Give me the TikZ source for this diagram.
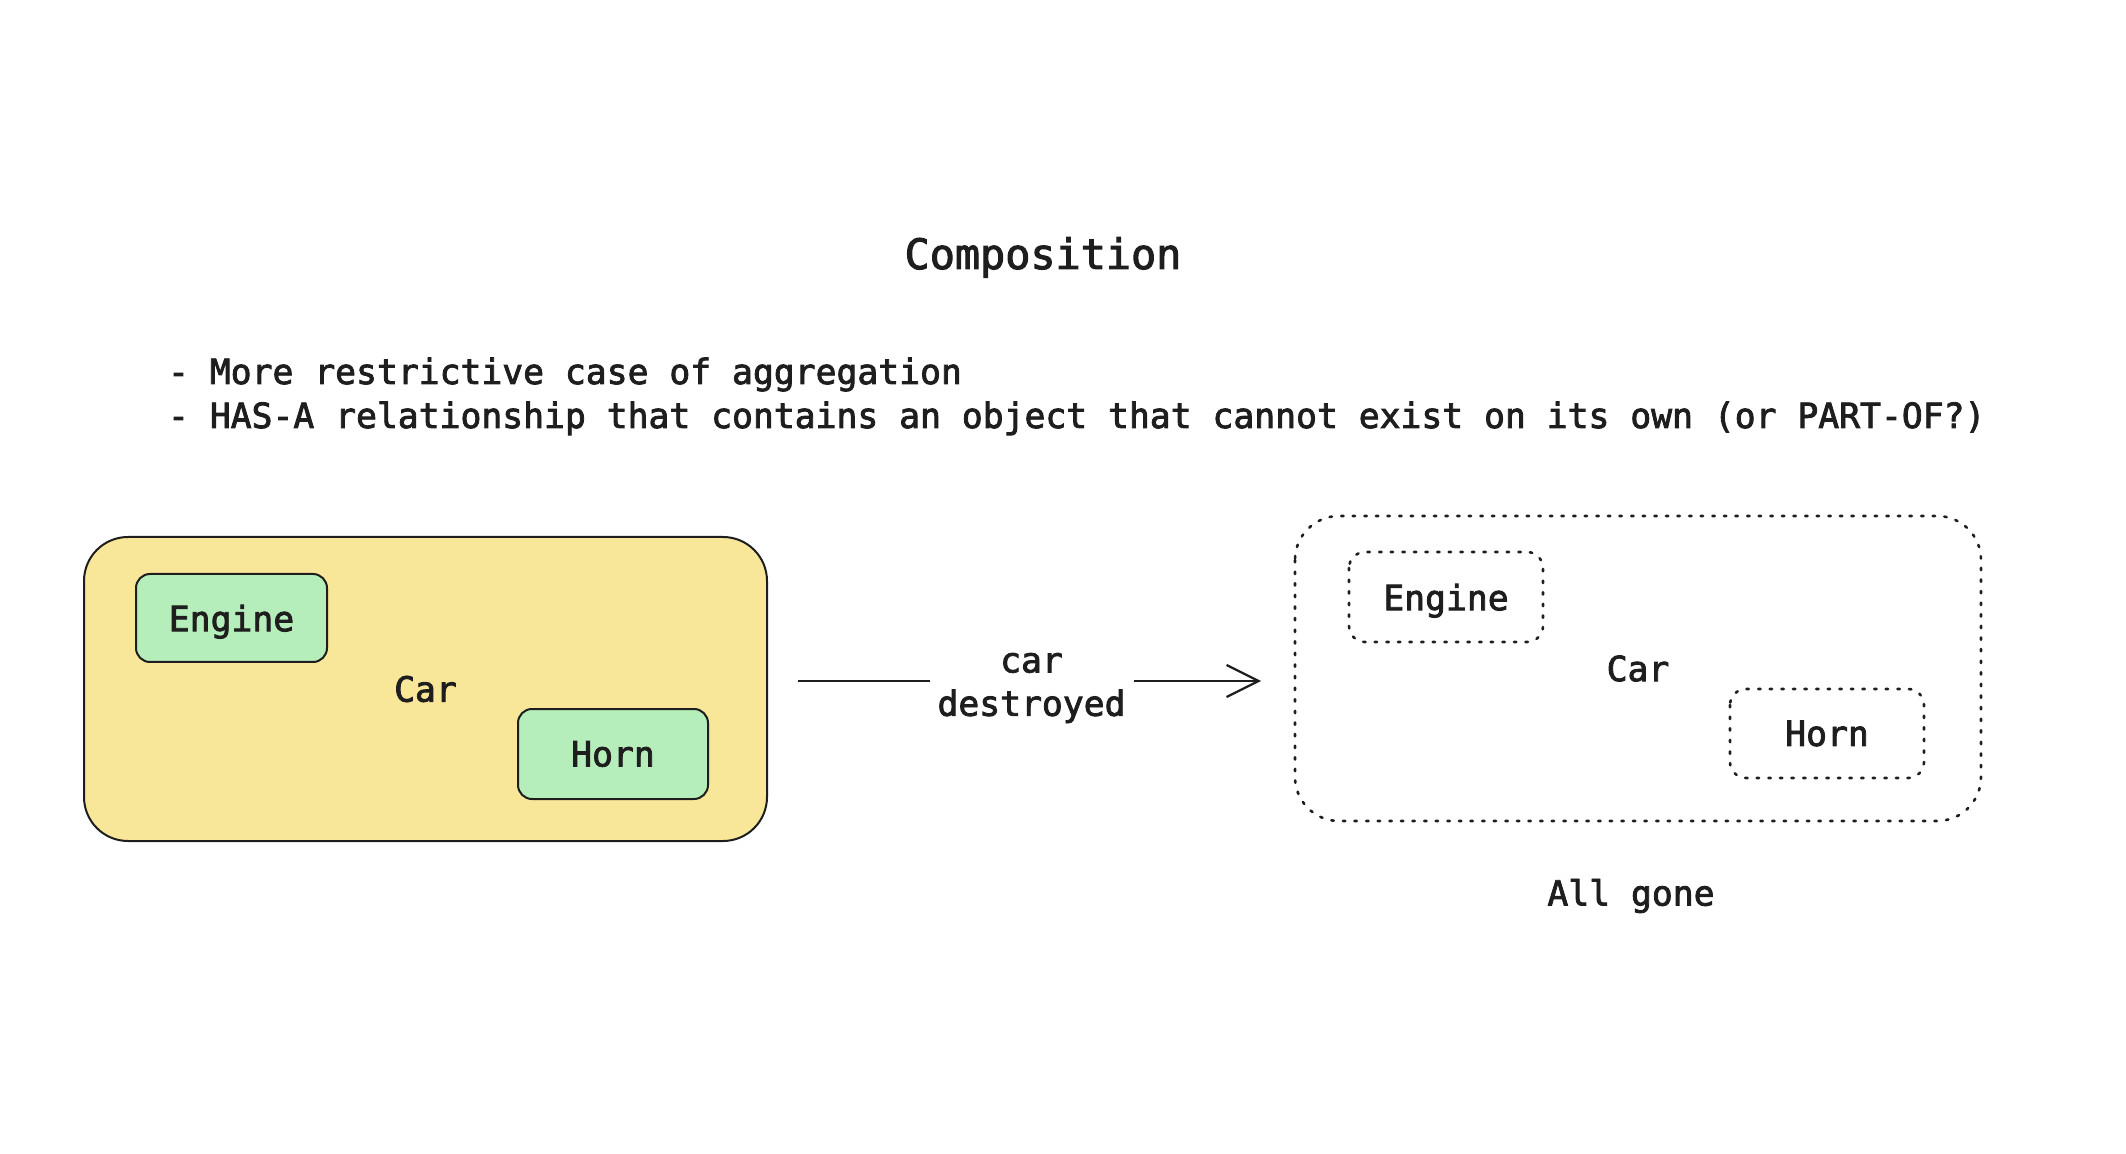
\documentclass[tikz,border=0pt]{standalone}
\usepackage{fontspec}
\setmainfont{DejaVu Sans Mono}[FakeBold=2.4]
\usetikzlibrary{arrows.meta}
\definecolor{caryellow}{HTML}{F9E799}
\definecolor{partgreen}{HTML}{B6EEBB}
\definecolor{ink}{HTML}{1E1E1E}
\begin{document}
\begin{tikzpicture}[x=0.5pt,y=-0.5pt,
  txt/.style={font=\fontsize{17.35pt}{21.7pt}\selectfont, text=ink},
  bigbox/.style={txt, draw=ink, line width=1pt, rounded corners=22pt, inner sep=0pt},
  partbox/.style={txt, draw=ink, line width=1pt, rounded corners=7pt, inner sep=0pt},
  gone/.style={dash pattern=on 1.2pt off 4.6pt, line cap=round, line width=1.3pt},
]
\useasboundingbox (0,0) rectangle (2126,1154);

\node[txt, font=\fontsize{20.9pt}{25pt}\selectfont, anchor=base] (title) at (1043,269) {Composition};
\node[txt, anchor=base west] (b1) at (161,384) {- More restrictive case of aggregation};
\node[txt, anchor=base west] (b2) at (161,428) {- HAS-A relationship that contains an object that cannot exist on its own (or PART-OF?)};

% left: intact car
\node[bigbox, fill=caryellow, minimum width=341.5pt, minimum height=152pt] (car1) at (425.5,689) {Car};
\node[partbox, fill=partgreen, minimum width=95.5pt, minimum height=44pt, text depth=0pt] (eng1) at (231.5,618) {Engine};
\node[partbox, fill=partgreen, minimum width=95pt, minimum height=45pt] (horn1) at (613,754) {Horn};

% right: destroyed car
\node[bigbox, draw=none, minimum width=342pt, minimum height=151.5pt] (car2) at (1638,668.5) {Car};
\draw[ink, gone, rounded corners=22pt] (car2.north west) rectangle (car2.south east);
\node[partbox, draw=none, minimum width=96pt, minimum height=44pt, text depth=0pt] (eng2) at (1446,597) {Engine};
\draw[ink, gone, rounded corners=8pt] (eng2.north west) rectangle (eng2.south east);
\node[partbox, draw=none, minimum width=96pt, minimum height=43.5pt] (horn2) at (1827,733.5) {Horn};
\draw[ink, gone, rounded corners=8pt] (horn2.north west) rectangle (horn2.south east);
\node[txt, anchor=center] (allgone) at (1631,896) {All gone};

% transition arrow
\coordinate (a0) at (car1.east |- 0,681);
\coordinate (a1) at (car2.west |- 0,681);
\draw[ink, line width=1.1pt, shorten <=15pt, shorten >=17pt,
  -{Straight Barb[length=16pt, width=16pt, line width=1.1pt]}] (a0) -- (a1)
  node[midway, txt, fill=white, align=center, inner xsep=4pt, inner ysep=2pt, yshift=-3.5pt] (lbl) {car\\destroyed};
\end{tikzpicture}
\end{document}
